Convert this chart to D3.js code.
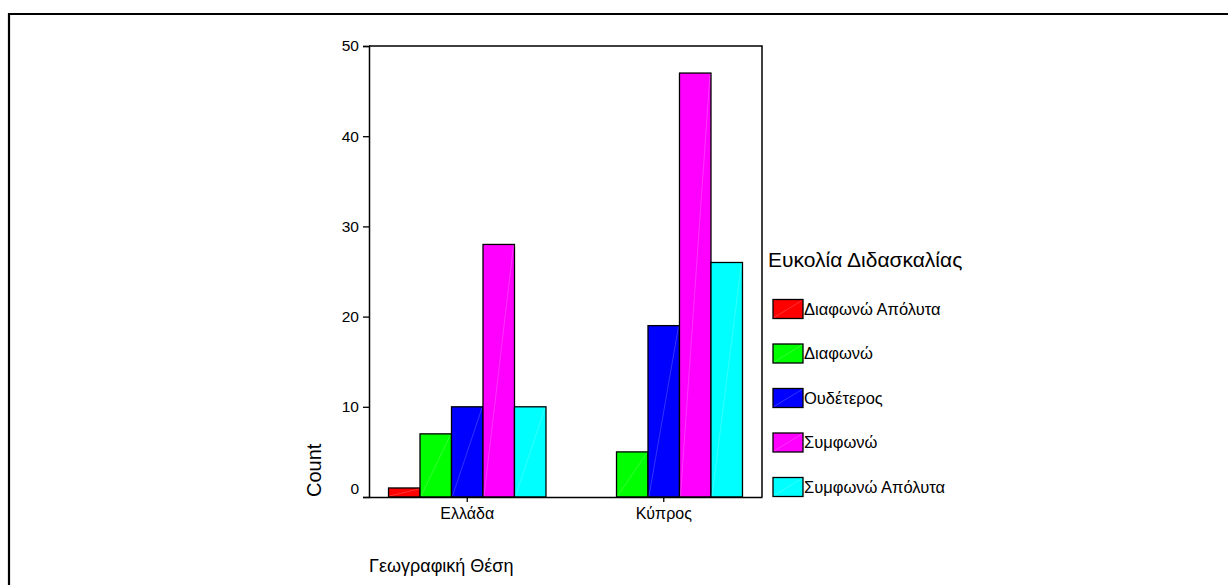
<!DOCTYPE html>
<html>
<head>
<meta charset="utf-8">
<script src="https://cdn.jsdelivr.net/npm/d3@7"></script>
<style>
  html, body { margin: 0; padding: 0; background: #fff; }
  svg { display: block; font-family: Arial, "Liberation Sans", sans-serif; }
</style>
</head>
<body>
<svg id="chart" width="1228" height="585"></svg>
<script>
// Geographic location categories
const categories = ["Ελλάδα", "Κύπρος"];
// Response levels for "ease of teaching"
const seriesNames = ["Διαφωνώ Απόλυτα", "Διαφωνώ", "Ουδέτερος", "Συμφωνώ", "Συμφωνώ Απόλυτα"];
const seriesColors = ["#ff0000", "#00ff00", "#0000ff", "#ff00ff", "#00ffff"];
// Counts per category, one array per response level
const valsDiafonoApolyta = [1, 0];
const valsDiafono = [7, 5];
const valsOudeteros = [10, 19];
const valsSymfono = [28, 47];
const valsSymfonoApolyta = [10, 26];
const yTicks = [0, 10, 20, 30, 40, 50];

const seriesValues = [valsDiafonoApolyta, valsDiafono, valsOudeteros, valsSymfono, valsSymfonoApolyta];

const svg = d3.select("#chart");

// Outer frame (top and left edges)
svg.append("path")
  .attr("d", "M9,585 V14 H1228")
  .attr("fill", "none").attr("stroke", "#000").attr("stroke-width", 2.2);

const plot = { left: 369, right: 762, top: 46, bottom: 497 };

const x0 = d3.scaleBand().domain(categories).range([plot.left, plot.right]).padding(0);
const x1 = d3.scaleBand().domain(seriesNames).range([0, x0.bandwidth()]).paddingInner(0).paddingOuter(0.62);
const y = d3.scaleLinear().domain([0, 50]).range([plot.bottom, plot.top]);

// Bars
const barData = [];
categories.forEach((c, ci) => {
  seriesNames.forEach((s, si) => {
    barData.push({ cat: c, series: s, color: seriesColors[si], value: seriesValues[si][ci] });
  });
});

const bars = svg.append("g").selectAll("g.bar")
  .data(barData.filter(d => d.value > 0))
  .join("g").attr("class", "bar");

bars.append("rect")
  .attr("x", d => x0(d.cat) + x1(d.series))
  .attr("y", d => y(d.value))
  .attr("width", x1.bandwidth())
  .attr("height", d => y(0) - y(d.value))
  .attr("fill", d => d.color)
  .attr("stroke", "#000").attr("stroke-width", 1.3);

// faint diagonal seam across each bar
bars.append("line")
  .attr("x1", d => x0(d.cat) + x1(d.series) + 1)
  .attr("y1", d => y(0) - 1)
  .attr("x2", d => x0(d.cat) + x1(d.series) + x1.bandwidth() - 1)
  .attr("y2", d => y(d.value) + 1)
  .attr("stroke", "#fff").attr("stroke-opacity", 0.25).attr("stroke-width", 0.8);

// Plot frame: top and right edges
svg.append("path")
  .attr("d", `M${plot.left},${plot.top} H${plot.right} V${plot.bottom}`)
  .attr("fill", "none").attr("stroke", "#000").attr("stroke-width", 1.5);

// Y axis
const yAxis = svg.append("g")
  .attr("transform", `translate(${plot.left},0)`)
  .call(d3.axisLeft(y).tickValues(yTicks).tickSize(6).tickPadding(4).tickFormat(d3.format("d")));
yAxis.select(".domain").attr("stroke-width", 1.5);
yAxis.selectAll(".tick line").attr("stroke-width", 1.3);
yAxis.selectAll(".tick text")
  .attr("font-size", 15.5).attr("font-family", "Arial, 'Liberation Sans', sans-serif").attr("fill", "#000")
  .attr("dy", d => d === 0 ? "-0.2em" : "0.32em");

// X axis
const xAxis = svg.append("g")
  .attr("transform", `translate(0,${plot.bottom})`)
  .call(d3.axisBottom(x0).tickSize(5).tickSizeOuter(0).tickPadding(6));
xAxis.select(".domain").attr("stroke-width", 1.5);
xAxis.selectAll(".tick line").attr("stroke-width", 1.3);
xAxis.selectAll(".tick text")
  .attr("font-size", 16).attr("font-family", "Arial, 'Liberation Sans', sans-serif").attr("fill", "#000");

// Axis titles
svg.append("text")
  .attr("transform", `translate(321,497) rotate(-90)`)
  .attr("font-size", 20).attr("fill", "#000")
  .text("Count");

svg.append("text")
  .attr("x", 369).attr("y", 572)
  .attr("font-size", 18).attr("fill", "#000")
  .text("Γεωγραφική Θέση");

// Legend
svg.append("text")
  .attr("x", 768).attr("y", 267)
  .attr("font-size", 21).attr("fill", "#000")
  .text("Ευκολία Διδασκαλίας");

const legend = svg.append("g").selectAll("g")
  .data(seriesNames)
  .join("g")
  .attr("transform", (d, i) => `translate(773,${299.5 + i * 44.5})`);

legend.append("rect")
  .attr("width", 30).attr("height", 19)
  .attr("fill", (d, i) => seriesColors[i])
  .attr("stroke", "#000").attr("stroke-width", 1.3);
legend.append("line")
  .attr("x1", 1).attr("y1", 18).attr("x2", 29).attr("y2", 1)
  .attr("stroke", "#fff").attr("stroke-opacity", 0.25).attr("stroke-width", 0.8);
legend.append("text")
  .attr("x", 31).attr("y", 9.5).attr("dy", "0.35em")
  .attr("font-size", 16.5).attr("fill", "#000")
  .text(d => d);
</script>
</body>
</html>
